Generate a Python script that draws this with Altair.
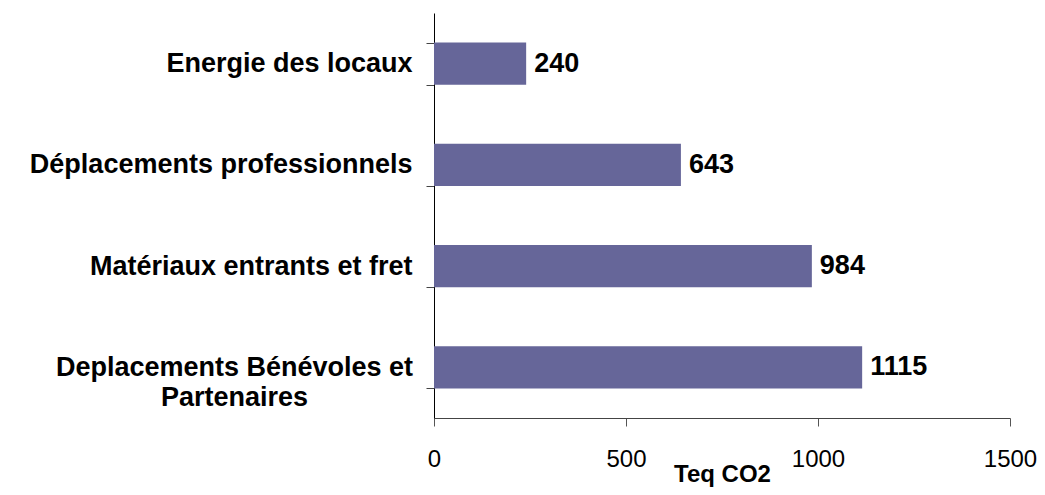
import altair as alt
import pandas as pd

categories = [
    "Energie des locaux",
    "Déplacements professionnels",
    "Matériaux entrants et fret",
    "Deplacements Bénévoles et Partenaires",
]
values = [240, 643, 984, 1115]
x_ticks = [0, 500, 1000, 1500]

df = pd.DataFrame({"cat": categories, "val": values})

LONG = "Deplacements Bénévoles et Partenaires"
label_expr = (
    f"datum.label == '{LONG}' ? "
    "['Deplacements Bénévoles et', 'Partenaires'] : datum.label"
)
is_long = f"datum.value == '{LONG}'"

FONT = "Liberation Sans"

y_enc = alt.Y(
    "cat:N",
    sort=categories,
    scale=alt.Scale(paddingInner=0.585, paddingOuter=0.2925),
    axis=alt.Axis(
        title=None,
        labelExpr=label_expr,
        labelFont=FONT,
        labelFontSize=27,
        labelFontWeight="bold",
        labelColor="#000000",
        labelAlign={"condition": {"test": is_long, "value": "center"}, "value": "right"},
        labelPadding={"condition": {"test": is_long, "value": 192}, "value": 14},
        labelLineHeight=30,
        labelLimit=0,
        tickBand="extent",
        tickSize=8,
        tickColor="#444444",
        domainColor="#000000",
        grid=False,
    ),
)

x_enc = alt.X(
    "val:Q",
    scale=alt.Scale(domain=[0, 1500], nice=False),
    axis=alt.Axis(
        values=x_ticks,
        format="d",
        title="Teq CO2",
        titleFont=FONT,
        titleFontSize=24,
        titleFontWeight="bold",
        titleColor="#000000",
        titleY=63,
        titleBaseline="alphabetic",
        labelFont=FONT,
        labelFontSize=24,
        labelColor="#000000",
        labelPadding=21,
        labelFlush=False,
        labelOverlap=False,
        tickSize=8,
        tickColor="#555555",
        domainColor="#444444",
        grid=False,
    ),
)

bars = alt.Chart(df).mark_bar(color="#666699").encode(x=x_enc, y=y_enc)

labels = alt.Chart(df).mark_text(
    align="left",
    baseline="middle",
    dx=8,
    font=FONT,
    fontSize=27,
    fontWeight="bold",
    color="#000000",
).encode(x="val:Q", y=alt.Y("cat:N", sort=categories), text="val:Q")

chart = (
    alt.layer(bars, labels)
    .properties(
        width=576,
        height=405,
        autosize=alt.AutoSizeParams(type="none"),
        padding={"left": 426, "top": 5, "right": 27, "bottom": 69},
        background="#ffffff",
    )
    .configure_view(stroke=None)
)

chart.save("out.html", embed_options={"renderer": "svg", "actions": False})
